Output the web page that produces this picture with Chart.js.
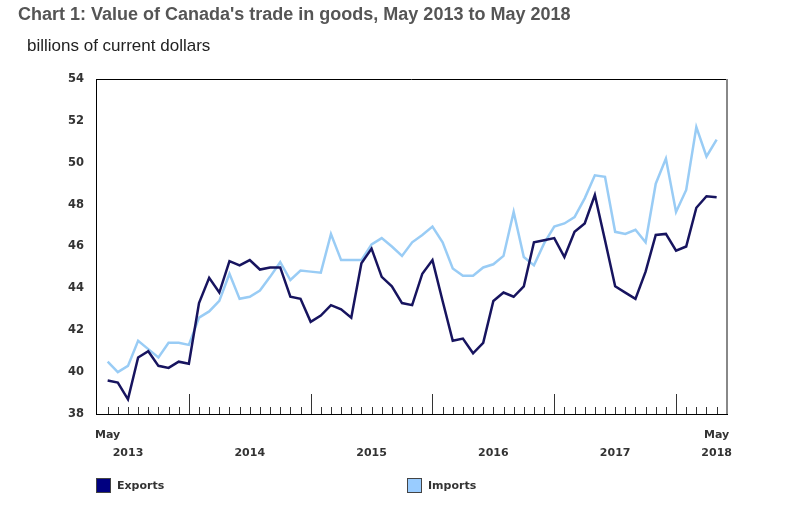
<!DOCTYPE html>
<html>
<head>
<meta charset="utf-8">
<title>Value of Canada's trade in goods</title>
<script src="https://cdn.jsdelivr.net/npm/chart.js@4"></script>
<style>
    body { margin: 0; background: #fff; }
    #wrap { position: relative; width: 785px; height: 515px; overflow: hidden; }
    #chart { position: absolute; left: 0; top: 0; }
    .title {
        position: absolute; left: 18px; top: 4px;
        font: bold 18px 'Liberation Sans', Arial, sans-serif; color: #555;
        white-space: nowrap;
    }
    .subtitle {
        position: absolute; left: 27px; top: 36px;
        font: 17px 'Liberation Sans', Arial, sans-serif; color: #222;
        white-space: nowrap;
    }
    .legend-item {
        position: absolute; top: 478px; height: 15px;
        font: bold 11px 'DejaVu Sans', Verdana, sans-serif; color: #333;
        line-height: 15px; white-space: nowrap;
    }
    .legend-item span {
        display: inline-block; width: 13px; height: 13px;
        border: 1px solid #444; vertical-align: top; margin-right: 6px;
    }
</style>
</head>
<body>
<div id="wrap">
    <canvas id="chart" width="785" height="515"></canvas>
    <div class="title">Chart 1: Value of Canada's trade in goods, May 2013 to May 2018</div>
    <div class="subtitle">billions of current dollars</div>
    <div class="legend-item" style="left:96px"><span style="background:#000080"></span>Exports</div>
    <div class="legend-item" style="left:407px"><span style="background:#99ccff"></span>Imports</div>
</div>
<script>
// Meses: mayo 2013 a mayo 2018 (61 meses)
const months = [];
for (let y = 2013, m = 5; months.length < 61; m++) {
    if (m > 12) { m = 1; y++; }
    months.push(y + '-' + String(m).padStart(2, '0'));
}

// Valores en miles de millones de dólares corrientes
const exports = [
    39.6, 39.5, 38.7, 40.7, 41.0, 40.3, 40.2, 40.5,
    40.4, 43.3, 44.5, 43.8, 45.3, 45.1, 45.35, 44.9, 45.0, 45.0, 43.6, 43.5,
    42.4, 42.7, 43.2, 43.0, 42.6, 45.2, 45.9, 44.55, 44.1, 43.3, 43.2, 44.7,
    45.35, 43.4, 41.5, 41.6, 40.9, 41.4, 43.4, 43.8, 43.6, 44.1, 46.2, 46.3,
    46.4, 45.5, 46.7, 47.1, 48.46, 46.3, 44.1, 43.8, 43.5, 44.8, 46.55, 46.6,
    45.8, 46.0, 47.85, 48.4, 48.35
];
const imports = [
    40.5, 40.0, 40.3, 41.5, 41.1, 40.7, 41.4, 41.4,
    41.3, 42.6, 42.9, 43.4, 44.7, 43.5, 43.6, 43.9, 44.55, 45.25, 44.4, 44.85,
    44.8, 44.75, 46.6, 45.35, 45.35, 45.35, 46.1, 46.4, 46.0, 45.55, 46.2, 46.55,
    46.95, 46.2, 44.95, 44.6, 44.6, 45.0, 45.15, 45.55, 47.65, 45.5, 45.1, 46.15,
    46.95, 47.1, 47.4, 48.3, 49.4, 49.33, 46.7, 46.6, 46.8, 46.2, 49.0, 50.2,
    47.65, 48.7, 51.7, 50.3, 51.1
];
const yTicks = [38, 40, 42, 44, 46, 48, 50, 52, 54];

// Etiquetas del eje x: "May" en los extremos, el año en julio
function xLabel(i) {
    const [year, month] = months[i].split('-');
    if (i === 0) return ['May', ''];
    if (i === months.length - 1) return ['May', year];
    if (month === '07') return ['', year];
    return '';
}

// Marco del gráfico y marcas interiores del eje x
const framePlugin = {
    id: 'frame',
    beforeDatasetsDraw(chart) {
        const { ctx, chartArea: a, scales: { x } } = chart;
        ctx.save();
        ctx.strokeStyle = '#333';
        ctx.lineWidth = 1;
        months.forEach((m, i) => {
            const px = Math.round(x.getPixelForValue(i)) + 0.5;
            const len = m.endsWith('-01') ? 20 : 7;
            ctx.beginPath();
            ctx.moveTo(px, a.bottom);
            ctx.lineTo(px, a.bottom - len);
            ctx.stroke();
        });
        ctx.restore();
    },
    afterDraw(chart) {
        const { ctx, chartArea: a } = chart;
        ctx.save();
        ctx.lineWidth = 1;
        ctx.strokeStyle = '#000';
        ctx.beginPath();
        ctx.moveTo(a.left, a.top + 0.5);
        ctx.lineTo(a.right, a.top + 0.5);
        ctx.stroke();
        ctx.strokeStyle = '#888';
        ctx.lineWidth = 2;
        ctx.beginPath();
        ctx.moveTo(a.right, a.top);
        ctx.lineTo(a.right, a.bottom);
        ctx.stroke();
        ctx.restore();
    }
};

const tickFont = { family: "'DejaVu Sans', Verdana, sans-serif", weight: 'bold' };

new Chart(document.getElementById('chart').getContext('2d'), {
    type: 'line',
    data: {
        datasets: [
            {
                label: 'Exports',
                data: exports.map((v, i) => ({ x: i, y: v })),
                borderColor: '#17145f',
                borderWidth: 2.5,
                pointRadius: 0,
                tension: 0
            },
            {
                label: 'Imports',
                data: imports.map((v, i) => ({ x: i, y: v })),
                borderColor: '#99ccf5',
                borderWidth: 2.5,
                pointRadius: 0,
                tension: 0
            }
        ]
    },
    options: {
        responsive: false,
        animation: false,
        layout: { padding: { top: 79, right: 58, left: 0, bottom: 0 } },
        plugins: {
            legend: { display: false },
            title: { display: false },
            tooltip: { enabled: false }
        },
        scales: {
            x: {
                type: 'linear',
                min: -1.15,
                max: 61.02,
                afterBuildTicks: scale => {
                    scale.ticks = months.map((m, i) => ({ value: i }));
                },
                afterFit: scale => { scale.height = 101; },
                grid: { display: false, drawTicks: false },
                border: { display: true, color: '#000', width: 1 },
                ticks: {
                    autoSkip: false,
                    maxRotation: 0,
                    minRotation: 0,
                    padding: 12,
                    color: '#333',
                    font: { ...tickFont, size: 11, lineHeight: 18 / 11 },
                    callback: (value) => xLabel(value)
                }
            },
            y: {
                min: 38,
                max: 54,
                afterBuildTicks: scale => {
                    scale.ticks = yTicks.map(v => ({ value: v }));
                },
                afterFit: scale => { scale.width = 96; },
                grid: { display: false, drawTicks: false },
                border: { display: true, color: '#000', width: 1 },
                ticks: {
                    padding: 12,
                    color: '#333',
                    font: { ...tickFont, size: 11.5 }
                }
            }
        }
    },
    plugins: [framePlugin]
});
</script>
</body>
</html>
